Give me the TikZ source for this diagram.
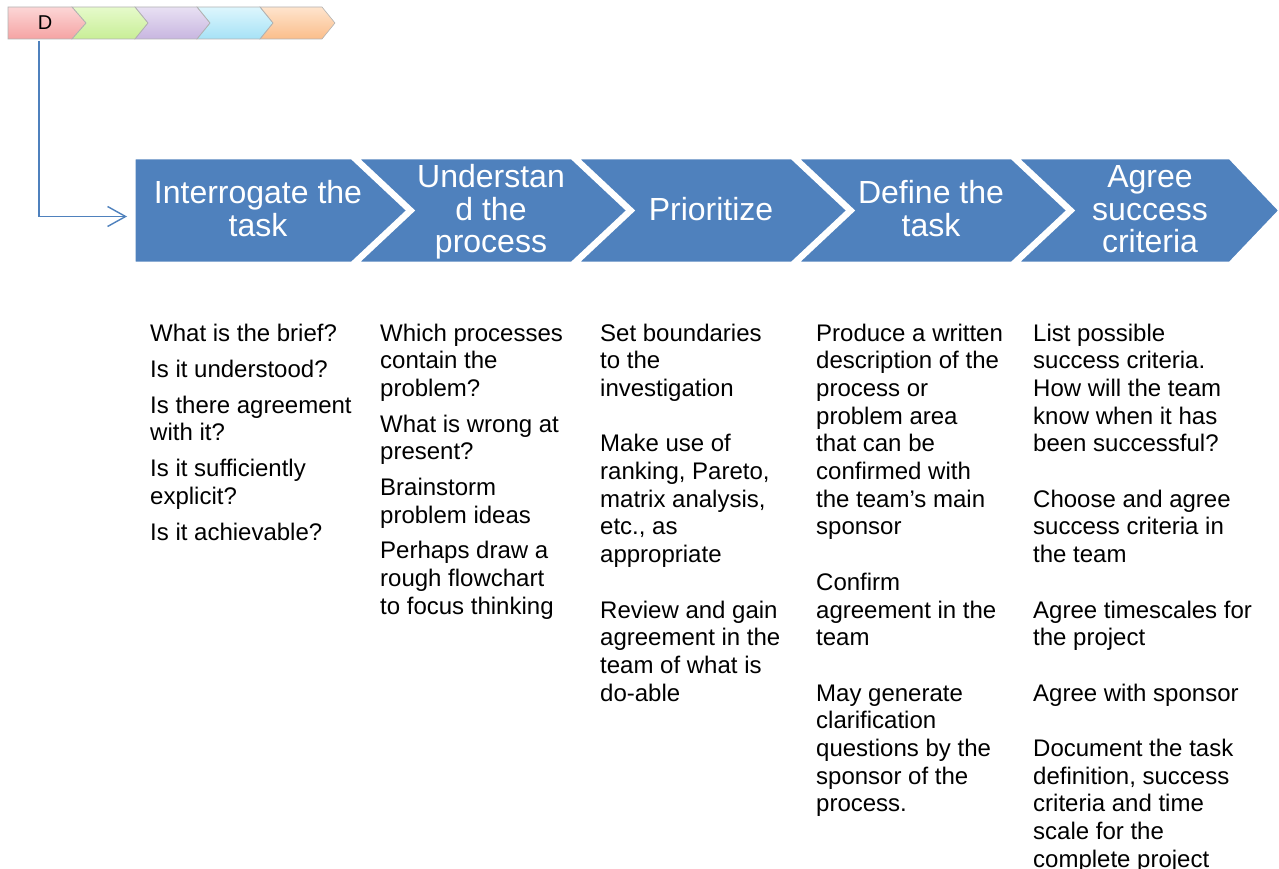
\documentclass[tikz,border=0pt]{standalone}
\usepackage{fontspec}
\setmainfont{Liberation Sans}
\usetikzlibrary{arrows.meta}

\definecolor{chevblue}{HTML}{4F81BD}
\definecolor{pinktop}{HTML}{FCD6D6}
\definecolor{pinkbot}{HTML}{F5A3A3}
\definecolor{greentop}{HTML}{E6FACB}
\definecolor{greenbot}{HTML}{C8EE96}
\definecolor{purpletop}{HTML}{E8E0F3}
\definecolor{purplebot}{HTML}{C8B6E0}
\definecolor{cyantop}{HTML}{DDF6FD}
\definecolor{cyanbot}{HTML}{A6E2F6}
\definecolor{orangetop}{HTML}{FEE4CD}
\definecolor{orangebot}{HTML}{FBBE8B}

\begin{document}
\begin{tikzpicture}[x=1pt, y=-1pt,
    chev/.style={fill=chevblue, draw=white, line width=3pt, line join=miter},
    smallchev/.style={draw=gray!60, line width=0.6pt},
    head/.style={text=white, align=center, inner sep=0pt, font=\fontsize{32}{32.5}\selectfont},
    body/.style={anchor=north west, align=left, inner sep=0pt, font=\fontsize{24}{27.7}\selectfont}]
    \useasboundingbox (0,0) rectangle (1279,869);

    % 上の小さいシェブロン
    \shade[top color=pinktop, bottom color=pinkbot] (8,7) -- (72,7) -- (86,23) -- (72,39) -- (8,39) -- cycle;
    \shade[top color=greentop, bottom color=greenbot] (72,7) -- (135,7) -- (148,23) -- (135,39) -- (72,39) -- (86,23) -- cycle;
    \shade[top color=purpletop, bottom color=purplebot] (135,7) -- (197,7) -- (210,23) -- (197,39) -- (135,39) -- (148,23) -- cycle;
    \shade[top color=cyantop, bottom color=cyanbot] (197,7) -- (260,7) -- (273,23) -- (260,39) -- (197,39) -- (210,23) -- cycle;
    \shade[top color=orangetop, bottom color=orangebot] (260,7) -- (322,7) -- (335,23) -- (322,39) -- (260,39) -- (273,23) -- cycle;
    \draw[smallchev] (8,7) -- (72,7) -- (86,23) -- (72,39) -- (8,39) -- cycle;
    \draw[smallchev] (72,7) -- (135,7) -- (148,23) -- (135,39) -- (72,39) -- (86,23) -- cycle;
    \draw[smallchev] (135,7) -- (197,7) -- (210,23) -- (197,39) -- (135,39) -- (148,23) -- cycle;
    \draw[smallchev] (197,7) -- (260,7) -- (273,23) -- (260,39) -- (197,39) -- (210,23) -- cycle;
    \draw[smallchev] (260,7) -- (322,7) -- (335,23) -- (322,39) -- (260,39) -- (273,23) -- cycle;
    \node[inner sep=0pt, font=\fontsize{20}{20}\selectfont] (dlabel) at (45,22.5) {D};

    % 大きいシェブロン
    \filldraw[chev] (134,158) -- (352,158) -- (408,210.5) -- (352,263) -- (134,263) -- cycle;
    \filldraw[chev] (357,158) -- (572,158) -- (628,210.5) -- (572,263) -- (357,263) -- (413,210.5) -- cycle;
    \filldraw[chev] (577,158) -- (792,158) -- (848,210.5) -- (792,263) -- (577,263) -- (633,210.5) -- cycle;
    \filldraw[chev] (797,158) -- (1012,158) -- (1068,210.5) -- (1012,263) -- (797,263) -- (853,210.5) -- cycle;
    \filldraw[chev] (1017,158) -- (1230,158) -- (1280,210.5) -- (1230,263) -- (1017,263) -- (1073,210.5) -- cycle;

    % 見出し
    \node[head] (interrogate) at (258,208.5) {Interrogate the\\task};
    \node[head] (understand) at (491,212) {Understan\\d the\\process};
    \node[head] (prioritize) at (711,209.5) {Prioritize};
    \node[head] (define) at (931,208.5) {Define the\\task};
    \node[head] (agree) at (1150,209.5) {Agree\\success\\criteria};

    % 矢印
    \coordinate (dfoot) at (39,41);
    \coordinate (arrowend) at (127,216.5);
    \draw[chevblue, line width=1.4pt, -{Straight Barb[length=18pt, width=20pt]}] (dfoot) |- (arrowend);

    % 本文
    \node[body] (briefcol) at (150,323.5) {What is the brief?\\[8.3pt]
        Is it understood?\\[8.3pt]
        Is there agreement\\with it?\\[8.3pt]
        Is it sufficiently\\explicit?\\[8.3pt]
        Is it achievable?};
    \node[body] (processcol) at (380,323.5) {Which processes\\contain the\\problem?\\[8pt]
        What is wrong at\\present?\\[8pt]
        Brainstorm\\problem ideas\\[8pt]
        Perhaps draw a\\rough flowchart\\to focus thinking};
    \node[body] (prioritycol) at (600,323.5) {Set boundaries\\to the\\investigation\\[27.7pt]
        Make use of\\ranking, Pareto,\\matrix analysis,\\etc., as\\appropriate\\[27.7pt]
        Review and gain\\agreement in the\\team of what is\\do-able};
    \node[body] (definecol) at (816,323.5) {Produce a written\\description of the\\process or\\problem area\\that can be\\confirmed with\\the team’s main\\sponsor\\[27.7pt]
        Confirm\\agreement in the\\team\\[27.7pt]
        May generate\\clarification\\questions by the\\sponsor of the\\process.};
    \node[body] (criteriacol) at (1033,323.5) {List possible\\success criteria.\\How will the team\\know when it has\\been successful?\\[27.7pt]
        Choose and agree\\success criteria in\\the team\\[27.7pt]
        Agree timescales for\\the project\\[27.7pt]
        Agree with sponsor\\[27.7pt]
        Document the task\\definition, success\\criteria and time\\scale for the\\complete project};
\end{tikzpicture}
\end{document}
